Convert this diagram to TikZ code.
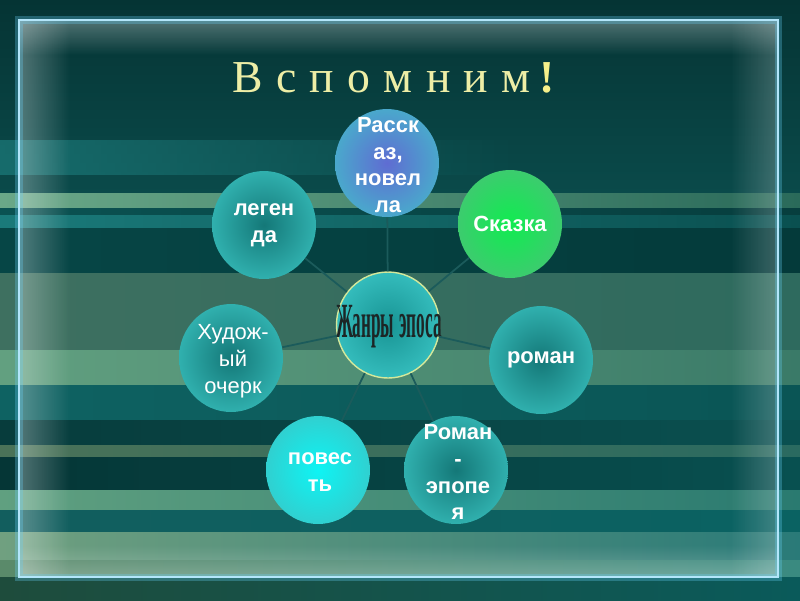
\documentclass[tikz,border=0pt]{standalone}
\usepackage{fontspec}
\setmainfont{Liberation Serif}
\newfontfamily\arialf{Liberation Sans}
\usetikzlibrary{shapes.geometric,fadings}
\definecolor{bgtop}{HTML}{053434}
\definecolor{bgmid}{HTML}{0A4A4A}
\definecolor{titlecol}{HTML}{EEEEA6}
\definecolor{exccol}{HTML}{F6F08A}
\definecolor{conncol}{HTML}{1B5B5B}
\definecolor{rimcol}{HTML}{D4E89A}
\definecolor{cin}{HTML}{189494}
\definecolor{cout}{HTML}{34BCBC}
\definecolor{ctext}{HTML}{1C2626}
\definecolor{tin}{HTML}{147878}
\definecolor{tout}{HTML}{30B0AE}
\definecolor{bin}{HTML}{5F6CD2}
\definecolor{bout}{HTML}{4AA8CC}
\definecolor{gin}{HTML}{10EC50}
\definecolor{gout}{HTML}{3CCC6E}
\definecolor{pin}{HTML}{0EF4F4}
\definecolor{pout}{HTML}{30D0D0}
\definecolor{upstripe}{HTML}{1E8080}
\tikzfading[name=fadeR, left color=transparent!0, right color=transparent!100]
\tikzfading[name=fadeL, left color=transparent!100, right color=transparent!0]
\tikzfading[name=fadeD, top color=transparent!0, bottom color=transparent!100]
\tikzfading[name=fadeU, top color=transparent!100, bottom color=transparent!0]
\tikzset{
  ball/.style={ellipse, inner sep=0pt, minimum width=2.08cm, minimum height=2.16cm},
  tealball/.style={ball, inner color=tin, outer color=tout},
  label/.style={align=center, text=white, inner sep=0pt, font=\arialf\bfseries\fontsize{12.5}{15.3}\selectfont},
  conn/.style={draw=conncol, line width=1pt},
  stripe/.style={draw=none}
}
\begin{document}
\begin{tikzpicture}[x=0.02cm,y=-0.02cm]
\useasboundingbox (0,0) rectangle (800,600);
% background
\fill[bgmid] (0,0) rectangle (800,600);
\shade[top color=bgtop, bottom color=bgmid] (0,0) rectangle (800,193);
\fill[upstripe, opacity=0.65, path fading=fadeR] (0,140) rectangle (520,175);
% stripes
\foreach \ya/\yb/\lc/\rc in {
  193/208/6AA888/2A6A5A,
  208/215/0A5252/073E3E,
  215/228/1A7A7A/0A5050,
  228/273/064646/043A3A,
  273/350/3E7060/2E6A5E,
  350/385/62A080/3A7A68,
  385/420/0E6262/0A5555,
  420/445/073C3C/0A5050,
  445/457/4A7258/2A6A60,
  457/490/053636/085050,
  490/510/60A080/2A7A70,
  510/532/125E5E/0A6262,
  532/560/70A080/2A7A78,
  560/577/5A8A6A/3A8A80,
  577/600/1E4C3C/0A5A5A}{
  \definecolor{lcol}{HTML}{\lc}\definecolor{rcol}{HTML}{\rc}
  \shade[stripe, left color=lcol, right color=rcol] (0,\ya) rectangle (800,\yb);
}
% inner frame glow
\fill[white, opacity=0.3, path fading=fadeR] (19,20) rectangle (70,577);
\fill[white, opacity=0.22, path fading=fadeL] (730,20) rectangle (778,577);
\fill[white, opacity=0.3, path fading=fadeD] (19,20) rectangle (778,55);
\fill[white, opacity=0.25, path fading=fadeU] (19,545) rectangle (778,577);
\draw[cyan!60!white, opacity=0.3, line width=4pt] (19,20) rectangle (778,577);
\draw[cyan!30!white, line width=1.2pt] (19,20) rectangle (778,577);
% title
\node[anchor=base west, text=titlecol, font=\fontsize{26}{30}\selectfont, inner sep=0pt] (title) at (232,92)
  {В\hspace{7.6pt}с\hspace{7.6pt}п\hspace{7.6pt}о\hspace{7.6pt}м\hspace{7.6pt}н\hspace{7.6pt}и\hspace{7.6pt}м\hspace{5pt}\textcolor{exccol}{\bfseries !}};
% centre
\node[ellipse, inner sep=0pt, minimum width=2.06cm, minimum height=2.12cm,
  inner color=cin, outer color=cout, draw=rimcol, line width=0.8pt] (c) at (388,325) {};
\node[text=ctext, font=\bfseries\fontsize{28}{28}\selectfont, xscale=0.35, inner sep=0pt] (ctext) at (389,327) {Жанры\hspace{8pt}эпоса};
% outer genres
\node[ball, inner color=bin, outer color=bout] (rass) at (387,163) {};
\node[ball, inner color=gin, outer color=gout] (skaz) at (510,224) {};
\node[tealball] (roman) at (541,360) {};
\node[tealball] (epop) at (456,470) {};
\node[ball, inner color=pin, outer color=pout] (pov) at (318,470) {};
\node[tealball] (ocherk) at (231,358) {};
\node[tealball] (leg) at (264,225) {};
% texts
\node[label] (rass-t) at (388,165) {Расск\\аз,\\новел\\ла};
\node[label] (skaz-t) at (skaz) {Сказка};
\node[label] (roman-t) at (roman) {роман};
\node[label] (epop-t) at (458,472) {Роман\\-\\эпопе\\я};
\node[label] (pov-t) at (320,472) {повес\\ть};
\node[label, font=\arialf\fontsize{12.5}{15.3}\selectfont] (ocherk-t) at (233,361) {Худож-\\ый\\очерк};
\node[label] (leg-t) at (leg) {леген\\да};
% connectors
\foreach \n in {rass,skaz,roman,epop,pov,ocherk,leg}{
  \draw[conn] (c) -- (\n);
}
\end{tikzpicture}
\end{document}
